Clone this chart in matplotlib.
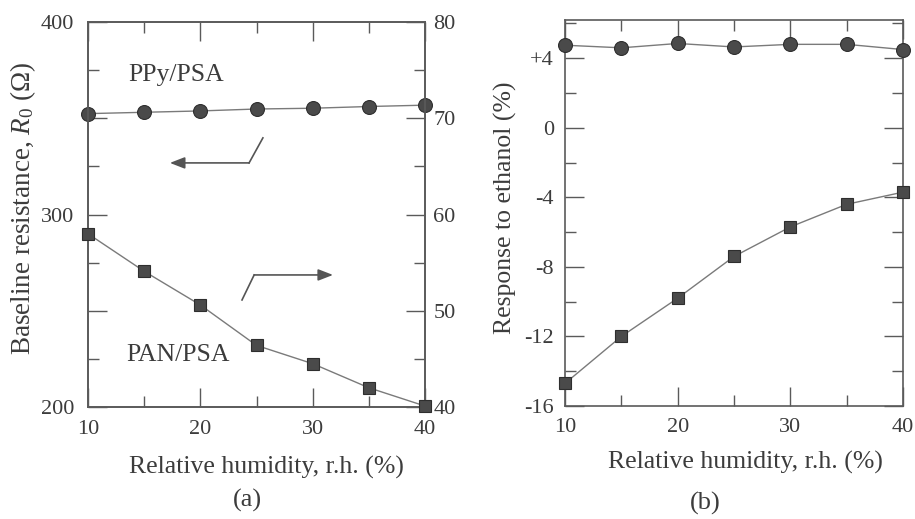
import matplotlib
matplotlib.use("Agg")
import matplotlib.pyplot as plt
from matplotlib.ticker import MultipleLocator, FixedLocator, FuncFormatter

# ---- data ----
rh = [10, 15, 20, 25, 30, 35, 40]
ppy_baseline = [352.4, 353.1, 353.8, 354.8, 355.2, 356.1, 356.8]   # left axis (Ohm)
pan_baseline = [58.0, 54.1, 50.6, 46.4, 44.5, 42.0, 40.1]          # right axis (Ohm)
ppy_response = [4.75, 4.6, 4.85, 4.65, 4.8, 4.8, 4.5]
pan_response = [-14.7, -12.0, -9.8, -7.4, -5.7, -4.4, -3.7]
xticks = [10, 20, 30, 40]
left_labels = {200: "200", 300: "300", 400: "400"}
right_ticks = [40, 50, 60, 70, 80]
resp_ticks = [4, 0, -4, -8, -12, -16]
resp_labels = ["+4", "0", "-4", "-8", "-12", "-16"]

plt.rcParams["font.family"] = ["Liberation Serif", "DejaVu Serif"]
plt.rcParams["mathtext.fontset"] = "custom"
plt.rcParams["mathtext.rm"] = "Liberation Serif"
plt.rcParams["mathtext.it"] = "Liberation Serif:italic"

TXT = "#3c3c3c"
SP = "#5a5a5a"
LINE = "#7a7a7a"
MFC = "#4a4a4a"
MEC = "#2e2e2e"
FS_TICK = 16
FS_LAB = 18.5

fig = plt.figure(figsize=(9.15, 5.19), dpi=100)
axL = fig.add_axes([88/915, 1-407/519, 337/915, 385/519])
axR = fig.add_axes([565/915, 1-406/519, 338/915, 386/519])


def style(ax):
    for s in ax.spines.values():
        s.set_color(SP)
        s.set_linewidth(1.2)
    ax.tick_params(which="both", direction="in", colors=SP, labelcolor=TXT,
                   labelsize=FS_TICK, width=1.0)
    ax.tick_params(which="major", length=14)
    ax.tick_params(which="minor", length=8)


# ---- panel (a) ----
axL2 = axL.twinx()
axL.plot(rh, ppy_baseline, color=LINE, lw=1.0, marker="o", ms=10,
         mfc=MFC, mec=MEC, mew=0.8, clip_on=False, zorder=5)
axL2.plot(rh, pan_baseline, color=LINE, lw=1.0, marker="s", ms=9,
          mfc=MFC, mec=MEC, mew=0.8, clip_on=False, zorder=5)
axL.set_xlim(10, 40)
axL.set_ylim(200, 400)
axL2.set_ylim(40, 80)
axL.xaxis.set_major_locator(FixedLocator(xticks))
axL.xaxis.set_minor_locator(MultipleLocator(5))
axL.yaxis.set_major_locator(MultipleLocator(50))
axL.yaxis.set_minor_locator(MultipleLocator(25))
axL.yaxis.set_major_formatter(FuncFormatter(lambda v, p: left_labels.get(int(round(v)), "")))
axL2.yaxis.set_major_locator(FixedLocator(right_ticks))
axL2.yaxis.set_minor_locator(MultipleLocator(5))
style(axL)
style(axL2)
axL.tick_params(axis="x", which="both", top=True, pad=9)
axL.tick_params(axis="y", which="both", right=False, pad=10)
axL2.tick_params(axis="y", which="both", pad=6)
axL.set_xlabel("Relative humidity, r.h. (%)", fontsize=FS_LAB, color=TXT)
axL.xaxis.set_label_coords(0.53, -0.127)
axL.set_ylabel("Baseline resistance, $R_0$ ($\\Omega$)", fontsize=19.5, color=TXT)
axL.yaxis.set_label_coords(-0.148, 0.517)

axL.text(0.119, 0.862, "PPy/PSA", transform=axL.transAxes, fontsize=FS_LAB,
         color=TXT, va="center", ha="left")
axL.text(0.113, 0.135, "PAN/PSA", transform=axL.transAxes, fontsize=FS_LAB,
         color=TXT, va="center", ha="left")
# arrows
axL.plot([0.519, 0.478], [0.699, 0.634], transform=axL.transAxes, color="#555", lw=1.2)
axL.annotate("", xy=(0.243, 0.634), xytext=(0.478, 0.634), xycoords="axes fraction",
             arrowprops=dict(arrowstyle="-|>,head_length=0.9,head_width=0.35",
                             color="#555", lw=1.2, shrinkA=0, shrinkB=0))
axL.plot([0.457, 0.493], [0.278, 0.343], transform=axL.transAxes, color="#555", lw=1.2)
axL.annotate("", xy=(0.727, 0.343), xytext=(0.493, 0.343), xycoords="axes fraction",
             arrowprops=dict(arrowstyle="-|>,head_length=0.9,head_width=0.35",
                             color="#555", lw=1.2, shrinkA=0, shrinkB=0))

# ---- panel (b) ----
axR.plot(rh, ppy_response, color=LINE, lw=1.0, marker="o", ms=10,
         mfc=MFC, mec=MEC, mew=0.8, clip_on=False, zorder=5)
axR.plot(rh, pan_response, color=LINE, lw=1.0, marker="s", ms=9,
         mfc=MFC, mec=MEC, mew=0.8, clip_on=False, zorder=5)
axR.set_xlim(10, 40)
axR.set_ylim(-16, 6.2)
axR.xaxis.set_major_locator(FixedLocator(xticks))
axR.xaxis.set_minor_locator(MultipleLocator(5))
axR.yaxis.set_major_locator(FixedLocator(resp_ticks))
axR.set_yticklabels(resp_labels)
axR.yaxis.set_minor_locator(MultipleLocator(2))
style(axR)
axR.tick_params(axis="x", which="both", top=True, pad=9)
axR.tick_params(axis="y", which="both", right=True, pad=8)
axR.set_xlabel("Relative humidity, r.h. (%)", fontsize=FS_LAB, color=TXT)
axR.xaxis.set_label_coords(0.535, -0.117)
axR.set_ylabel("Response to ethanol (%)", fontsize=FS_LAB, color=TXT)
axR.yaxis.set_label_coords(-0.142, 0.514)

fig.text(247/915, 1-500/519, "(a)", fontsize=19, color=TXT, ha="center", va="center")
fig.text(705/915, 1-503/519, "(b)", fontsize=19, color=TXT, ha="center", va="center")

fig.savefig("out.png", dpi=100, facecolor="white")
